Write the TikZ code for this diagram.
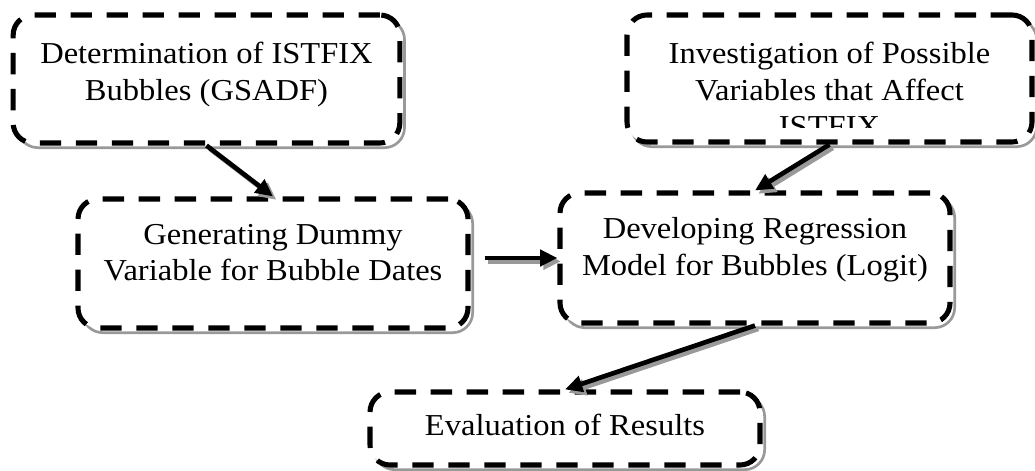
\documentclass[tikz,border=0pt]{standalone}
\usepackage{fontspec}
\setmainfont{Liberation Serif}[FakeStretch=1.07]
\usetikzlibrary{positioning,arrows.meta}

\begin{document}
\begin{tikzpicture}[
		x=0.75pt, y=-0.75pt,
		stepbox/.style={
			draw, fill=white, rectangle, rounded corners=15pt,
			line width=3.8pt, dash pattern=on 16pt off 11pt,
			minimum width=292.5pt, minimum height=97pt,
			preaction={draw=black!40, solid, line width=2pt,
				transform canvas={xshift=3.5pt, yshift=-3.5pt}}
		},
		boxtext/.style={
			align=center, inner sep=0pt,
			font=\fontsize{22.8pt}{27.5pt}\selectfont
		},
		flow/.style={
			line width=3.5pt, -{Triangle[length=13pt,width=12pt]},
			preaction={draw=black!40, line width=3.5pt,
				-{Triangle[length=13pt,width=12pt]},
				transform canvas={xshift=2.5pt, yshift=-2.5pt}}
		}
		]
		\useasboundingbox (0,0) rectangle (1035,471);
		
		% boxes
		\node[stepbox, minimum width=290pt, minimum height=96pt] (gsadf) at (206.5,79) {};
		\node[stepbox, minimum width=303.75pt, minimum height=95.25pt] (vars) at (829.5,78.5) {};
		\node[stepbox, minimum height=96.75pt] (dummy) at (273,263.5) {};
		\node[stepbox, minimum height=97.5pt] (logit) at (755,258) {};
		\node[stepbox, minimum height=54.75pt] (eval) at (565,428.5) {};
		
		% texts
		\node[boxtext, below=22pt of gsadf.north] (gsadf-text) {Determination of ISTFIX\\Bubbles (GSADF)};
		\begin{scope}
			\clip (vars.north west) rectangle ([yshift=12.75pt]vars.south east);
			\node[boxtext, below=22pt of vars.north] (vars-text) {Investigation of Possible\\Variables that Affect\\ISTFIX};
		\end{scope}
		\node[boxtext, below=20.5pt of dummy.north] (dummy-text) {Generating Dummy\\Variable for Bubble Dates};
		\node[boxtext, below=20pt of logit.north] (logit-text) {Developing Regression\\Model for Bubbles (Logit)};
		\node[boxtext, below=18pt of eval.north] (eval-text) {Evaluation of Results};
		
		% arrows
		\draw[flow] (gsadf.south) -- (dummy.north);
		\draw[flow] ([xshift=10.5pt]dummy.east |- logit.west) -- (logit.west);
		\draw[flow] (vars.south) -- (logit.north);
		\draw[flow] (logit.south) -- (eval.north);
	\end{tikzpicture}
\end{document}
